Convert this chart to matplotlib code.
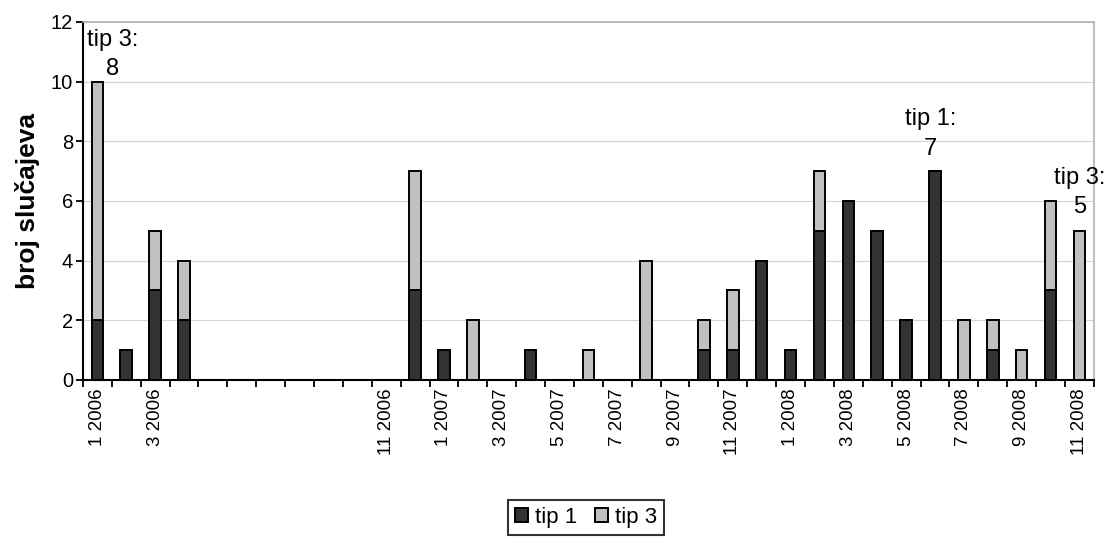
import numpy as np
import matplotlib
matplotlib.use('Agg')
import matplotlib.pyplot as plt

plt.rcParams['font.family'] = ['Liberation Sans', 'DejaVu Sans']

# mjesečni broj slučajeva, 1/2006 - 11/2008
tick_labels = ['1 2006', '', '3 2006', '', '', '', '', '', '', '', '11 2006', '',
               '1 2007', '', '3 2007', '', '5 2007', '', '7 2007', '', '9 2007', '',
               '11 2007', '', '1 2008', '', '3 2008', '', '5 2008', '', '7 2008', '',
               '9 2008', '', '11 2008']
tip1 = [2, 1, 3, 2, 0, 0, 0, 0, 0, 0, 0, 3, 1, 0, 0, 1, 0, 0, 0, 0, 0, 1, 1, 4,
        1, 5, 6, 5, 2, 7, 0, 1, 0, 3, 0]
tip3 = [8, 0, 2, 2, 0, 0, 0, 0, 0, 0, 0, 4, 0, 2, 0, 0, 0, 1, 0, 4, 0, 1, 2, 0,
        0, 2, 0, 0, 0, 0, 2, 1, 1, 3, 5]

# istaknute vrijednosti: (indeks mjeseca, tekst, pomak u točkama)
notes = [(0, 'tip 3:\n8', (11, 1)), (29, 'tip 1:\n7', (-3, 8)), (34, 'tip 3:\n5', (0, 9))]

tip1 = np.array(tip1)
tip3 = np.array(tip3)
x = np.arange(len(tick_labels))

fig = plt.figure(figsize=(11.06, 5.44), dpi=100)
ax = fig.add_axes([0.075, 0.3015, 0.914, 0.6581])

w = 0.4
ax.bar(x, tip1, w, color='#333333', edgecolor='black', linewidth=1.4, label='tip 1', zorder=3)
ax.bar(x, tip3, w, bottom=tip1, color='#c0c0c0', edgecolor='black', linewidth=1.4,
       label='tip 3', zorder=3)

ax.set_xlim(-0.5, len(x) - 0.5)
ax.set_ylim(0, 12)
ax.set_yticks(np.arange(0, 13, 2))
ax.yaxis.grid(True, color='#d4d4d4', linewidth=0.8)
ax.set_axisbelow(True)

# crtice između mjeseci, oznake na sredini
ax.set_xticks(np.arange(-0.5, len(x)), minor=False)
ax.set_xticklabels([])
ax.set_xticks(x, minor=True)
ax.set_xticklabels(tick_labels, minor=True, rotation=90, fontsize=13.5)
ax.tick_params(axis='x', which='minor', length=0, pad=6)
ax.tick_params(axis='x', which='major', length=5, width=1.3, direction='out')
ax.tick_params(axis='y', length=5, width=1.3, labelsize=14.5, pad=2)

for side in ['left', 'bottom']:
    ax.spines[side].set_linewidth(1.5)
for side in ['top', 'right']:
    ax.spines[side].set_color('#b0b0b0')
    ax.spines[side].set_linewidth(1.2)

ax.set_ylabel('broj slučajeva', fontsize=19, fontweight='bold', labelpad=8)

totals = tip1 + tip3
for i, txt, off in notes:
    ax.annotate(txt, (x[i], totals[i]), xytext=off, textcoords='offset points',
                ha='center', va='bottom', fontsize=17, linespacing=1.45,
                annotation_clip=False)

leg = fig.legend(loc='upper center', bbox_to_anchor=(0.53, 0.08), ncol=2,
                 fontsize=16, frameon=True, fancybox=False, handlelength=0.6,
                 handleheight=0.6, handletextpad=0.3, columnspacing=0.8,
                 borderpad=0.3, borderaxespad=0)
leg.get_frame().set_edgecolor('black')
leg.get_frame().set_linewidth(1.5)

fig.savefig('out.png', dpi=100)
